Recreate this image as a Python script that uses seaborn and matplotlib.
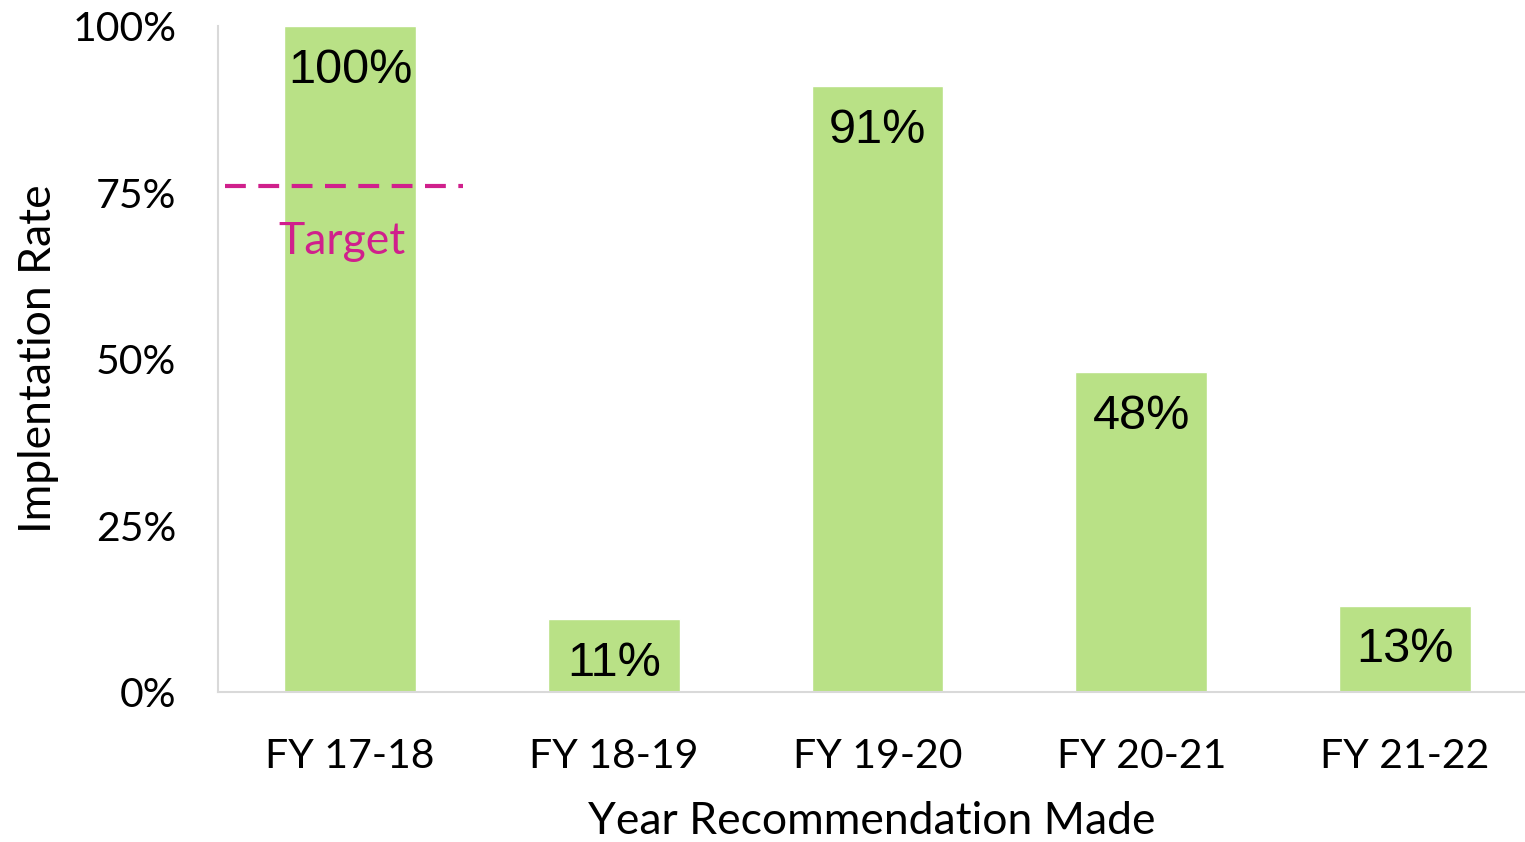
import pandas as pd
import seaborn as sns
import matplotlib.pyplot as plt
from matplotlib.ticker import PercentFormatter

years = ['FY 17-18', 'FY 18-19', 'FY 19-20', 'FY 20-21', 'FY 21-22']
rates = [1.00, 0.11, 0.91, 0.48, 0.13]
target = 0.76

df = pd.DataFrame({'year': years, 'rate': rates})

sns.set_style('white')
plt.rcParams['font.family'] = ['Lato', 'DejaVu Sans']
plt.rcParams['text.color'] = 'black'
plt.rcParams['axes.labelcolor'] = 'black'

fig = plt.figure(figsize=(15.25, 8.42), dpi=100)
ax = fig.add_axes([0.143, 0.178, 0.857, 0.791])

sns.barplot(data=df, x='year', y='rate', color='#B9E186', saturation=1,
            width=0.5, ax=ax)

# bar value labels
for i, v in enumerate(rates):
    ax.annotate(f'{v:.0%}', (i, v), xytext=(0, -32), textcoords='offset points',
                ha='center', va='center', fontsize=35, color='black',
                family=['Liberation Sans', 'DejaVu Sans'])

# target line
ax.plot([-0.474, 0.43], [target, target], color='#D0208C', lw=3,
        dashes=(5, 3), solid_capstyle='butt')
ax.annotate('Target', (-0.03, target), xytext=(0, -40), textcoords='offset points',
            ha='center', va='center', fontsize=32, color='#D0208C')

ax.set_xlim(-0.5, 4.455)
ax.set_ylim(0, 1.0)
ax.set_yticks([0, 0.25, 0.5, 0.75, 1.0])
ax.yaxis.set_major_formatter(PercentFormatter(1.0, decimals=0))
ax.tick_params(axis='both', length=0, labelsize=29.5, colors='black')
ax.tick_params(axis='x', pad=33)
ax.tick_params(axis='y', pad=30)

ax.set_xlabel('Year Recommendation Made', fontsize=32, labelpad=19)
ax.set_ylabel('Implentation Rate', fontsize=32, labelpad=10)

sns.despine(ax=ax)
for s in ['left', 'bottom']:
    ax.spines[s].set_color('#D9D9D9')
    ax.spines[s].set_linewidth(1.5)

fig.savefig('out.png', dpi=100)
